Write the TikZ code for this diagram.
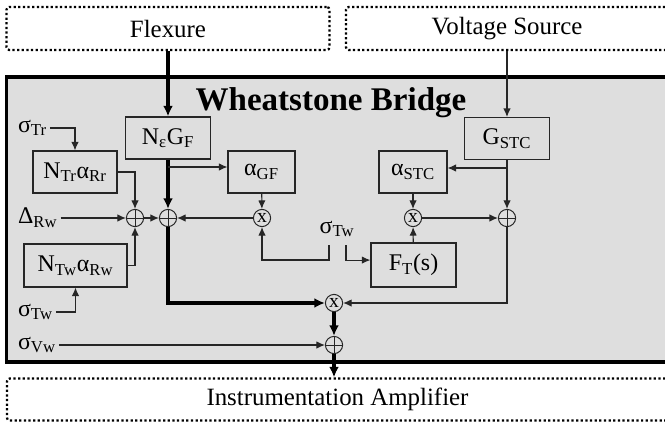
\documentclass[tikz,border=0pt]{standalone}
\usepackage{fontspec}
\setmainfont{Liberation Serif}
\usetikzlibrary{arrows.meta}
\colorlet{bridgeGray}{black!13}
\colorlet{lineGray}{black!85}

\begin{document}
\begin{tikzpicture}[x=0.025cm, y=-0.025cm,
        every node/.style={font=\fontsize{17}{20}\selectfont},
        dotbox/.style={draw, line width=1.6pt, dash pattern=on 1.6pt off 1.7pt, rounded corners=2pt, minimum height=1.075cm, font=\fontsize{17.7}{20}\selectfont},
        blk/.style={draw=lineGray, line width=0.8pt, minimum height=1.05cm, inner sep=0pt},
        sumnode/.style={draw=lineGray, circle, line width=0.7pt, minimum size=0.43cm, inner sep=0pt,
            path picture={\draw[lineGray, line width=0.6pt] (path picture bounding box.north) -- (path picture bounding box.south)
                (path picture bounding box.west) -- (path picture bounding box.east);}},
        mulnode/.style={draw=lineGray, circle, line width=0.7pt, minimum size=0.43cm, inner sep=0pt, font=\fontsize{14}{14}\selectfont},
        lbl/.style={anchor=west, inner sep=2pt},
        arr/.style={lineGray, line width=0.75pt, -{Latex[length=6pt, width=5.2pt]}},
        thickarr/.style={black, line width=2.2pt, -{Latex[length=7.5pt, width=7pt]}}]
        \clip (0,0) rectangle (665,427);

        % Wheatstone bridge frame
        \node[draw, line width=2.2pt, fill=bridgeGray, minimum width=16.65cm, minimum height=7.125cm, inner sep=0pt] (bridge) at (340,219.5) {};
        \node[font=\fontsize{23.5}{26}\selectfont\bfseries, anchor=base] (title) at (331,111) {Wheatstone Bridge};

        % Sources (top) and amplifier (bottom)
        \node[dotbox, minimum width=8.075cm] (flex) at (168,28.5) {Flexure};
        \node[dotbox, minimum width=8.05cm] (volt) at (507,28.5) {Voltage Source};
        \node[dotbox, minimum width=16.525cm, minimum height=1.05cm] (inst) at (337.5,399.5) {Instrumentation Amplifier};

        % Blocks
        \node[blk, minimum width=2.125cm] (neg) at (168,138) {N\textsubscript{ε}G\textsubscript{F}};
        \node[blk, minimum width=2.125cm] (gstc) at (507,138.5) {G\textsubscript{STC}};
        \node[blk, minimum width=2.1cm] (ntr) at (75,172) {N\textsubscript{Tr}α\textsubscript{Rr}};
        \node[blk, minimum width=1.675cm] (agf) at (261.5,172) {α\textsubscript{GF}};
        \node[blk, minimum width=1.7cm] (ast) at (413,172) {α\textsubscript{STC}};
        \node[blk, minimum width=2.575cm, minimum height=1.075cm] (ntw) at (75.5,265.5) {N\textsubscript{Tw}α\textsubscript{Rw}};
        \node[blk, minimum width=2.125cm, minimum height=1.1cm] (ft) at (413.5,265) {F\textsubscript{T}(s)};

        % Summing and multiplying junctions
        \node[sumnode] (s1) at (135,218) {};
        \node[sumnode] (s2) at (168,218) {};
        \node[mulnode] (m1) at (262,218) {x};
        \node[mulnode] (m2) at (413,218) {x};
        \node[sumnode] (s3) at (507,218) {};
        \node[mulnode] (m3) at (334,303) {x};
        \node[sumnode] (s4) at (334,345) {};

        % Disturbance inputs
        \node[lbl] (str) at (15,128) {σ\textsubscript{Tr}};
        \node[lbl] (drw) at (15,218) {Δ\textsubscript{Rw}};
        \node[lbl] (stw) at (15,312) {σ\textsubscript{Tw}};
        \node[lbl] (svw) at (15,345) {σ\textsubscript{Vw}};
        \node (tw) at (337,229) {σ\textsubscript{Tw}};
        \coordinate (twl) at (329,245);
        \coordinate (twr) at (346,245);
        \coordinate (ja) at (168,167);
        \coordinate (jb) at (507,168);

        % Left branch
        \draw[arr] (str) -| (ntr);
        \draw[arr] (ntr) -| (s1);
        \draw[arr] (drw) -- (s1);
        \draw[arr] (ntw) -| (s1);
        \draw[arr] (stw) -| (ntw);
        \draw[arr] (s1) -- (s2);

        % Strain path
        \draw[thickarr] (flex) -- (neg);
        \draw[thickarr] (neg) -- (s2);
        \draw[arr] (ja) -- (ja -| agf.west);
        \draw[arr] (agf) -- (m1);
        \draw[arr] (m1) -- (s2);
        \draw[arr] (twl) -- ++(0,15) -| (m1);
        \draw[arr] (twr) |- ([yshift=3.5pt]ft.west);

        % Supply path
        \draw[arr] (volt) -- (gstc);
        \draw[arr] (jb) -- (jb -| ast.east);
        \draw[arr] (gstc) -- (s3);
        \draw[arr] (ast) -- (m2);
        \draw[arr] (ft) -- (m2);
        \draw[arr] (m2) -- (s3);
        \draw[arr] (s3) |- (m3);

        % Output
        \draw[thickarr] (s2) |- (m3);
        \draw[thickarr] (m3) -- (s4);
        \draw[arr] (svw) -- (s4);
        \draw[thickarr] (s4) -- (s4 |- inst.north);
    \end{tikzpicture}
\end{document}
